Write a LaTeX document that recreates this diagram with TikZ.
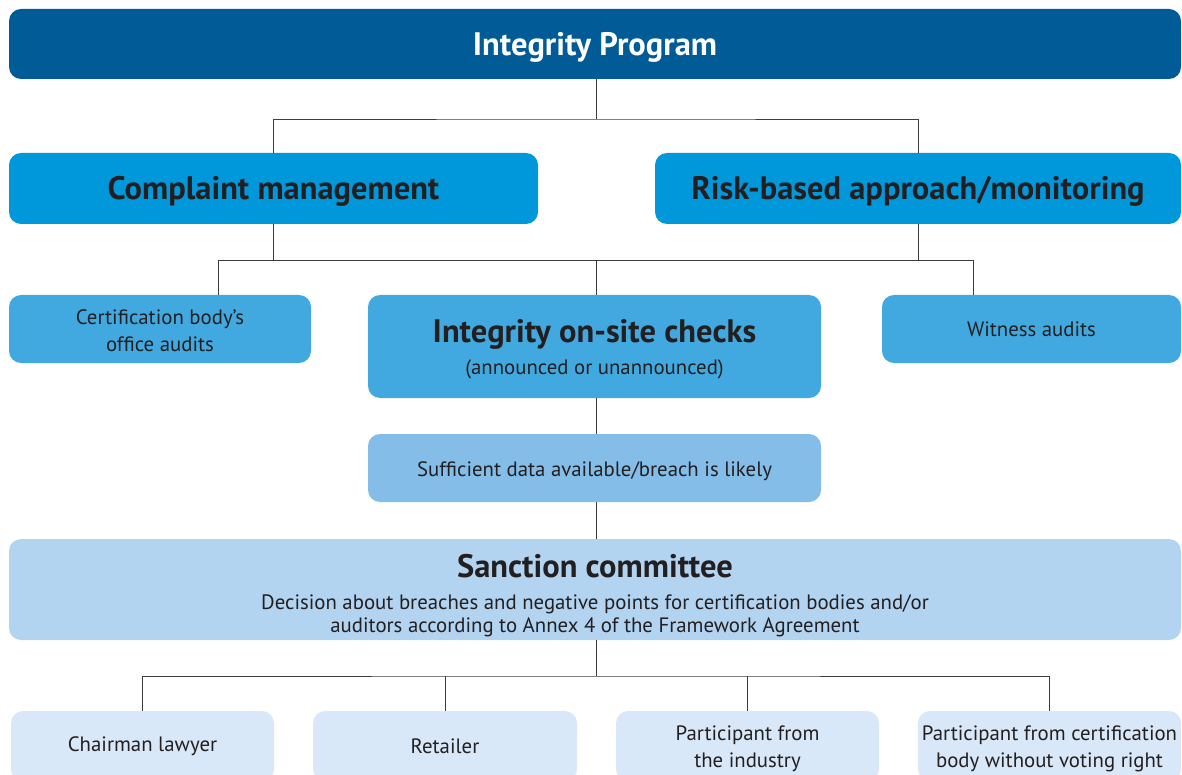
\documentclass[tikz,border=0pt]{standalone}
\usepackage{fontspec}
\setmainfont{PT Sans}
\usepackage{tikz}
\usetikzlibrary{calc}
\definecolor{progblue}{RGB}{0,91,150}
\definecolor{pillarblue}{RGB}{0,152,218}
\definecolor{checkblue}{RGB}{66,169,224}
\definecolor{datablue}{RGB}{131,189,232}
\definecolor{sanctblue}{RGB}{178,212,240}
\definecolor{memberblue}{RGB}{217,232,248}
\definecolor{inktext}{RGB}{35,31,32}
\definecolor{wire}{RGB}{60,60,60}
% lower a line of text inside its box without changing the box
\newcommand{\low}[2][3pt]{\raisebox{-#1}[\height][\depth]{#2}}
\newcommand{\headline}[1]{{\fontsize{32.5}{38}\bfseries\selectfont #1}}

\begin{document}
\begin{tikzpicture}[
    x=1pt, y=-1pt,
    box/.style={rounded corners=12pt, align=center, inner sep=0pt,
                text=inktext, font=\fontsize{20.8}{27}\selectfont},
    prog/.style={box, fill=progblue, text=white,
                 font=\fontsize{32.5}{38}\bfseries\selectfont},
    pillar/.style={box, fill=pillarblue,
                   font=\fontsize{32.5}{38}\bfseries\selectfont},
    check/.style={box, fill=checkblue},
    data/.style={box, fill=datablue},
    sanct/.style={box, fill=sanctblue},
    member/.style={box, fill=memberblue},
    link/.style={draw=wire, line width=0.9pt},
]
\useasboundingbox (0,0) rectangle (1182,775);

% ---- Program and pillars ----
\node[prog, minimum width=1172pt, minimum height=70pt]   (ip)   at (595,44)   {\low{Integrity Program}};
\node[pillar, minimum width=529pt, minimum height=71pt]  (cm)   at (273.5,188.5) {\low{Complaint management}};
\node[pillar, minimum width=526pt, minimum height=71pt]  (rb)   at (918,188.5)   {\low{Risk-based approach/monitoring}};

\coordinate (bus1) at (596,119);
\draw[link] (ip.south -| bus1) -- (bus1);
\draw[link] (cm.north) |- (bus1) -| (rb.north);

% ---- Checks ----
\node[check, minimum width=302pt, minimum height=68pt]   (cbo)  at (160,329)
     {\low[2pt]{Certification body’s}\\\low[2pt]{office audits}};
\node[check, minimum width=453pt, minimum height=103pt]  (osc)  at (594.5,346.5)
     {\low{\headline{Integrity on-site checks}}\\[5pt]\low{(announced or unannounced)}};
\node[check, minimum width=299pt, minimum height=68pt]   (wit)  at (1031.5,329) {Witness audits};
\node[data, minimum width=453pt, minimum height=68pt]    (suf)  at (594.5,468)  {\low{Sufficient data available/breach is likely}};

\coordinate (bus2)  at (596,260);
\coordinate (cbotap) at (218,260);
\coordinate (wittap) at (973,260);
\draw[link] (cm.south) -- (cm.south |- bus2);
\draw[link] (rb.south) -- (rb.south |- bus2);
\draw[link] (cbotap) -- (wittap);
\draw[link] (cbotap) -- (cbotap |- cbo.north);
\draw[link] (wittap) -- (wittap |- wit.north);
\draw[link] (bus2) -- (bus2 |- osc.north);
\draw[link] (osc.south -| bus2) -- (suf.north -| bus2);

% ---- Sanction committee ----
\node[sanct, minimum width=1172pt, minimum height=101pt] (sc)   at (595,589.5)
     {\low[6pt]{\headline{Sanction committee}}\\[5pt]
      \low[6pt]{Decision about breaches and negative points for certification bodies and/or}\\[-4pt]
      \low[6pt]{auditors according to Annex 4 of the Framework Agreement}};
\draw[link] (suf.south -| bus2) -- (sc.north -| bus2);

\node[member, minimum width=263pt, minimum height=70pt]  (chair) at (142.5,746)  {Chairman lawyer};
\node[member, minimum width=264pt, minimum height=70pt]  (ret)   at (445,746)    {Retailer};
\node[member, minimum width=263pt, minimum height=70pt]  (ind)   at (747.5,746)  {\low{Participant from}\\\low{the industry}};
\node[member, minimum width=263pt, minimum height=70pt]  (cbp)   at (1049.5,746) {\low{Participant from certification}\\\low{body without voting right}};

\coordinate (bus3) at (596,676);
\draw[link] (sc.south -| bus3) -- (bus3);
\draw[link] (chair.north) |- (bus3) -| (cbp.north);
\draw[link] (ret.north) -- (ret.north |- bus3);
\draw[link] (ind.north) -- (ind.north |- bus3);
\end{tikzpicture}
\end{document}
